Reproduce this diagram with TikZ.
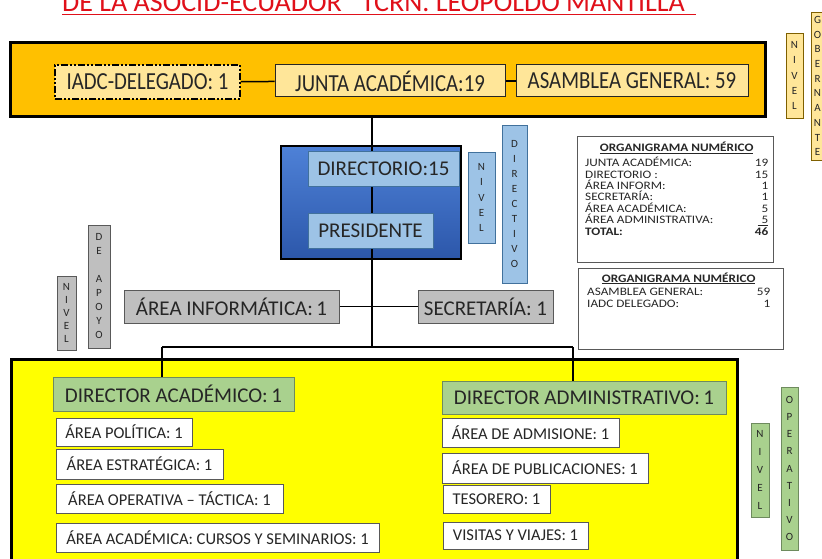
\documentclass[tikz,border=0pt]{standalone}
\usepackage{fontspec}
\setmainfont{Carlito}
\newfontfamily\tallfont[FakeStretch=0.85]{Carlito}
\newfontfamily\widefont[FakeStretch=1.16]{Carlito}
\usetikzlibrary{positioning}
\definecolor{bandorange}{HTML}{FFC000}
\definecolor{paleorange}{HTML}{FFE699}
\definecolor{orangeline}{HTML}{7F6000}
\definecolor{dirblue}{HTML}{4E81D7}
\definecolor{dirbluedark}{HTML}{2C57AA}
\definecolor{paleblue}{HTML}{9DC3E6}
\definecolor{blueline}{HTML}{41719C}
\definecolor{apoyogray}{HTML}{BFBFBF}
\definecolor{grayline}{HTML}{595959}
\definecolor{opyellow}{HTML}{FFFF00}
\definecolor{dirgreen}{HTML}{A9D18E}
\definecolor{greenline}{HTML}{6E8B5E}
\definecolor{titlered}{HTML}{E0101A}
\definecolor{ink}{HTML}{262626}
\newcommand{\numrow}[2]{\makebox[183pt]{#1\hfill#2}}
\newcommand{\numhead}{\makebox[183pt]{\bfseries\underline{ORGANIGRAMA NUMÉRICO}}}
\tikzset{
  orgbox/.style={draw, inner sep=0pt, align=center, text=ink},
  bandbox/.style={orgbox, fill=paleorange, draw=ink, line width=1pt, font=\tallfont\fontsize{24.5}{28}\selectfont},
  bluebox/.style={orgbox, fill=paleblue, draw=blueline, line width=1pt, font=\fontsize{21}{25}\selectfont},
  graybox/.style={orgbox, fill=apoyogray, draw=grayline, line width=1pt, font=\fontsize{21}{25}\selectfont},
  greenbox/.style={orgbox, fill=dirgreen, draw=greenline, line width=1pt, font=\fontsize{21}{25}\selectfont},
  areabox/.style={orgbox, fill=white, draw=grayline, line width=1pt, font=\fontsize{16.5}{20}\selectfont},
  strip/.style={orgbox, line width=0.8pt, font=\fontsize{11}{#1}\selectfont},
  numbox/.style={draw=grayline, line width=0.8pt, inner sep=0pt},
  numtext/.style={anchor=base west, inner sep=0pt, align=left, text=ink, font=\widefont\fontsize{11.4}{11.4}\selectfont},
  link/.style={draw=black, line width=1.5pt},
}

\begin{document}
\begin{tikzpicture}[x=1pt,y=-1pt]
  \useasboundingbox (0,0) rectangle (822,559);
  \clip (0,0) rectangle (822,559);

  % title (cut at the top)
  \node[inner sep=0pt, anchor=base west, text=titlered, font=\fontsize{28}{30}\selectfont] (title) at (62,12) {DE LA ASOCID-ECUADOR “TCRN. LEOPOLDO MANTILLA”};
  \draw[titlered, line width=1.6pt] ([yshift=-2.5pt]title.base west) -- ([yshift=-2.5pt]title.base east);

  % nivel gobernante
  \node[draw=black, line width=3pt, fill=bandorange, minimum width=755, minimum height=74] (band) at (387.5,80) {};
  \node[bandbox, draw=black, line width=1.6pt, dash pattern=on 7pt off 2pt on 2pt off 2pt on 2pt off 2pt, minimum width=185, minimum height=34] (iadc) at (147.5,82) {IADC-DELEGADO: 1};
  \node[bandbox, minimum width=230, minimum height=32] (junta) at (390,81) {JUNTA ACADÉMICA:19};
  \node[bandbox, minimum width=232, minimum height=32] (asamblea) at (632,81) {ASAMBLEA GENERAL: 59};
  \draw[link] (iadc) -- (junta);
  \draw[link] (junta) -- (asamblea);
  \node[strip=15.2, fill=paleorange, draw=orangeline, minimum width=17, minimum height=85] (nivgob) at (794.5,75.5) {N\\I\\V\\E\\L};
  \node[strip=14.7, fill=paleorange, draw=orangeline, minimum width=13, minimum height=148] (gobernante) at (817.5,86) {G\\O\\B\\E\\R\\N\\A\\N\\T\\E};

  % nivel directivo
  \coordinate (spine) at (372,347);
  \node[draw=black, line width=2.5pt, top color=dirblue, bottom color=dirbluedark, minimum width=180, minimum height=113] (directivo) at (371,202.5) {};
  \draw[link] (band.south -| spine) -- (spine);
  \node[bluebox, minimum width=151, minimum height=34] (directorio) at (383.5,169) {DIRECTORIO:15};
  \node[bluebox, minimum width=125, minimum height=35] (presidente) at (370.5,230.5) {PRESIDENTE};
  \node[strip=15.2, fill=paleblue, draw=blueline, minimum width=27, minimum height=91] (nivdir) at (481.5,197.5) {N\\I\\V\\E\\L};
  \node[strip=15.1, fill=paleblue, draw=blueline, minimum width=25, minimum height=158] (directivolbl) at (514.5,204) {D\\I\\R\\E\\C\\T\\I\\V\\O};

  % organigrama numerico
  \node[numbox, minimum width=196, minimum height=126] (numtab) at (675,199) {};
  \node[numtext] (numtabtxt) at (585,235) {\numhead\\[2pt]
    \numrow{JUNTA ACADÉMICA:}{19}\\
    \numrow{DIRECTORIO :}{15}\\
    \numrow{ÁREA INFORM:}{1}\\
    \numrow{SECRETARÍA:}{1}\\
    \numrow{ÁREA ACADÉMICA:}{5}\\
    \numrow{ÁREA ADMINISTRATIVA:}{\underline{\,\,5}}\\
    \numrow{\bfseries TOTAL:}{\bfseries 46}};
  \node[numbox, minimum width=205, minimum height=81] (asamtab) at (680.5,308.5) {};
  \node[numtext] (asamtabtxt) at (587,307) {\numhead\\[2pt]
    \numrow{ASAMBLEA GENERAL:}{59}\\
    \numrow{IADC DELEGADO:}{1}};

  % nivel de apoyo
  \node[graybox, minimum width=215, minimum height=33] (informatica) at (231.5,306.5) {ÁREA INFORMÁTICA:\,1};
  \node[graybox, minimum width=135, minimum height=33] (secretaria) at (485.5,306.5) {SECRETARÍA: 1};
  \draw[link] (informatica) -- (informatica -| spine);
  \draw[link] (secretaria) -- (secretaria -| spine);
  \node[strip=13, fill=apoyogray, draw=grayline, minimum width=19, minimum height=74] (nivapoyo) at (66.5,313) {N\\I\\V\\E\\L};
  \node[strip=14, fill=apoyogray, draw=grayline, minimum width=22, minimum height=123] (apoyolbl) at (99,286.5) {D\\E\\[14pt]A\\P\\O\\Y\\O};

  % nivel operativo
  \coordinate (acadjoin) at (162,347);
  \coordinate (admjoin) at (573,347);
  \draw[link] (acadjoin) -- (admjoin);
  \node[draw=black, line width=2.5pt, fill=opyellow, minimum width=726, minimum height=230, anchor=north west] (operativo) at (10,358) {};
  \node[greenbox, minimum width=241, minimum height=34] (diracad) at (173.5,394) {DIRECTOR ACADÉMICO:\,1};
  \node[greenbox, minimum width=284, minimum height=33] (diradmin) at (584,397.5) {DIRECTOR ADMINISTRATIVO:\,1};
  \draw[link] (acadjoin) -- (acadjoin |- diracad.north);
  \draw[link] (admjoin) -- (admjoin |- diradmin.north);

  \node[areabox, minimum width=136, minimum height=28] (politica) at (124,432) {ÁREA POLÍTICA: 1};
  \node[areabox, minimum width=167, minimum height=30] (estrategica) at (139.5,464) {ÁREA ESTRATÉGICA: 1};
  \node[areabox, minimum width=227, minimum height=29] (operativa) at (169.5,498.5) {ÁREA OPERATIVA -- TÁCTICA: 1};
  \node[areabox, minimum width=323, minimum height=29] (cursos) at (217.5,537.5) {ÁREA ACADÉMICA: CURSOS Y SEMINARIOS: 1};

  \node[areabox, minimum width=177, minimum height=29] (admisione) at (530.5,432.5) {ÁREA DE ADMISIONE: 1};
  \node[areabox, minimum width=206, minimum height=30] (publicaciones) at (545,468) {ÁREA DE PUBLICACIONES: 1};
  \node[areabox, minimum width=107, minimum height=28] (tesorero) at (496.5,499) {TESORERO: 1};
  \node[areabox, minimum width=145, minimum height=27] (visitas) at (515.5,535.5) {VISITAS Y VIAJES: 1};

  \node[strip=18, fill=dirgreen, draw=greenline, minimum width=18, minimum height=94] (nivop) at (760,470) {N\\I\\V\\E\\L};
  \node[strip=17.1, fill=dirgreen, draw=greenline, minimum width=17, minimum height=163] (operativolbl) at (789.5,468.5) {O\\P\\E\\R\\A\\T\\I\\V\\O};
\end{tikzpicture}
\end{document}
